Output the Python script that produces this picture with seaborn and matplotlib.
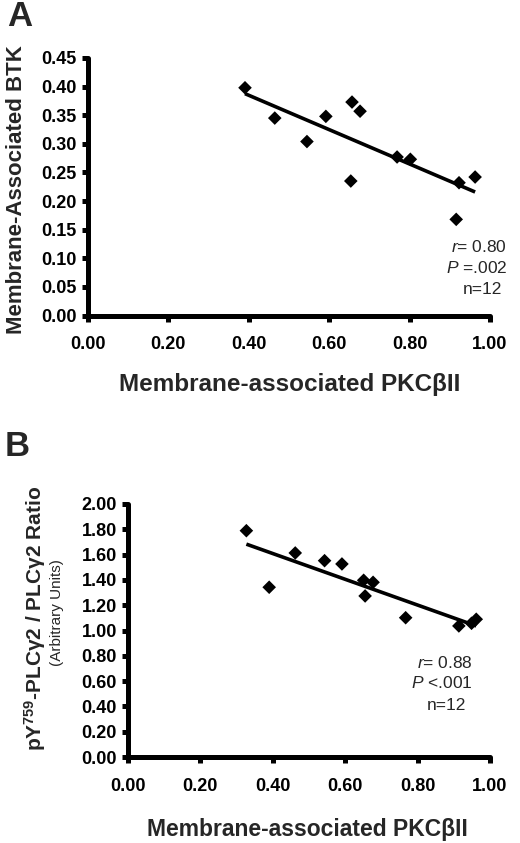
import numpy as np
import pandas as pd
import matplotlib
matplotlib.use("Agg")
import matplotlib.pyplot as plt
import seaborn as sns

# ---- data ----
pkc_a = [0.391, 0.465, 0.545, 0.592, 0.657, 0.677, 0.654, 0.769, 0.802, 0.923, 0.963, 0.916]
btk_a = [0.398, 0.345, 0.304, 0.348, 0.373, 0.357, 0.235, 0.277, 0.273, 0.232, 0.242, 0.168]

pkc_b = [0.327, 0.390, 0.462, 0.543, 0.591, 0.651, 0.677, 0.655, 0.767, 0.914, 0.949, 0.962]
ratio_b = [1.789, 1.342, 1.613, 1.552, 1.526, 1.397, 1.381, 1.273, 1.101, 1.036, 1.057, 1.089]

xticks = [0.0, 0.2, 0.4, 0.6, 0.8, 1.0]
yticks_a = [0.00, 0.05, 0.10, 0.15, 0.20, 0.25, 0.30, 0.35, 0.40, 0.45]
yticks_b = [0.0, 0.2, 0.4, 0.6, 0.8, 1.0, 1.2, 1.4, 1.6, 1.8, 2.0]

stats_a = ["r", "= 0.80", "P", " =.002", "n=12"]
stats_b = ["r", "= 0.88", "P", " <.001", "n=12"]

sns.set_theme(style="white")
plt.rcParams['font.family'] = ['Liberation Sans', 'DejaVu Sans']
plt.rcParams['mathtext.fontset'] = 'custom'
plt.rcParams['mathtext.rm'] = 'Liberation Sans'
plt.rcParams['mathtext.bf'] = 'Liberation Sans:bold'
plt.rcParams['mathtext.it'] = 'Liberation Sans:italic'

df_a = pd.DataFrame({"x": pkc_a, "y": btk_a})
df_b = pd.DataFrame({"x": pkc_b, "y": ratio_b})

fig = plt.figure(figsize=(5.20, 8.43), dpi=100)
W, H = 520, 843

def px_axes(l, r, t, b):
    return fig.add_axes([l / W, 1 - b / H, (r - l) / W, (b - t) / H])

axA = px_axes(87.7, 490, 58, 315.5)
axB = px_axes(128, 490, 504, 757)

def style(ax, yticks, ylim, tick_fs, yfmt):
    ax.set_xlim(0, 1.0)
    ax.set_ylim(*ylim)
    ax.set_xticks(xticks)
    ax.set_yticks(yticks)
    ax.set_xticklabels([f"{v:.2f}" for v in xticks], fontweight="bold", fontsize=tick_fs)
    ax.set_yticklabels([yfmt.format(v) for v in yticks], fontweight="bold", fontsize=tick_fs)
    for s in ["top", "right"]:
        ax.spines[s].set_visible(False)
    for s in ["left", "bottom"]:
        ax.spines[s].set_linewidth(3.6)
        ax.spines[s].set_color("black")
        ax.spines[s].set_capstyle("round")
    ax.tick_params(axis="both", direction="out", length=4, width=3.6, color="black",
                   labelcolor="black", left=True, bottom=True)
    ax.tick_params(axis="x", pad=11)
    ax.tick_params(axis="y", pad=4)
    ax.grid(False)
    ax.set_xlabel("")
    ax.set_ylabel("")

for ax, df in [(axA, df_a), (axB, df_b)]:
    sns.regplot(data=df, x="x", y="y", ax=ax, ci=None, color="black",
                marker="D", scatter_kws={"s": 48, "edgecolor": "none", "alpha": 1.0,
                                         "zorder": 3, "clip_on": False},
                line_kws={"linewidth": 2.6, "solid_capstyle": "butt"})

style(axA, yticks_a, (0, 0.45), 13, "{:.2f}")
style(axB, yticks_b, (0, 2.0), 13, "{:.2f}")

# Panel letters
fig.text(7 / W, 1 - 16 / H, "A", fontsize=25, fontweight="bold", va="center", ha="left")
fig.text(5 / W, 1 - 447 / H, "B", fontsize=25, fontweight="bold", va="center", ha="left")

# Axis labels
fig.text(17 / W, 1 - 190 / H, "Membrane-Associated BTK", rotation=90, fontsize=16,
         fontweight="bold", va="center", ha="center")
fig.text(290 / W, 1 - 384 / H, "Membrane-associated PKC\u03b2II", fontsize=17.5,
         fontweight="bold", va="center", ha="center")
fig.text(307 / W, 1 - 836 / H, "Membrane-associated PKC\u03b2II", fontsize=16.5,
         fontweight="bold", va="baseline", ha="center")
fig.text(35 / W, 1 - 618 / H, "pY$^{\\mathbf{759}}$-PLC\u03b32 / PLC\u03b32 Ratio",
         rotation=90, fontsize=15, fontweight="bold", va="center", ha="center")
fig.text(57 / W, 1 - 613 / H, "(Arbitrary Units)", rotation=90, fontsize=11,
         va="center", ha="center")

# Stats annotations
def stats(x_r, ys, items, fs, nx):
    fig.text(x_r / W, 1 - ys[0] / H, f"$\\it{{{items[0]}}}$" + items[1], fontsize=fs,
             ha="right", va="center")
    fig.text(x_r / W, 1 - ys[1] / H, f"$\\it{{{items[2]}}}$" + items[3], fontsize=fs,
             ha="right", va="center")
    fig.text(nx / W, 1 - ys[2] / H, items[4], fontsize=fs, ha="center", va="center")

stats(507, (246.7, 268, 290), stats_a, 12.5, 482)
stats(473, (662.7, 683.5, 705), stats_b, 12.5, 446)

fig.savefig("out.png", dpi=100, facecolor="white")
